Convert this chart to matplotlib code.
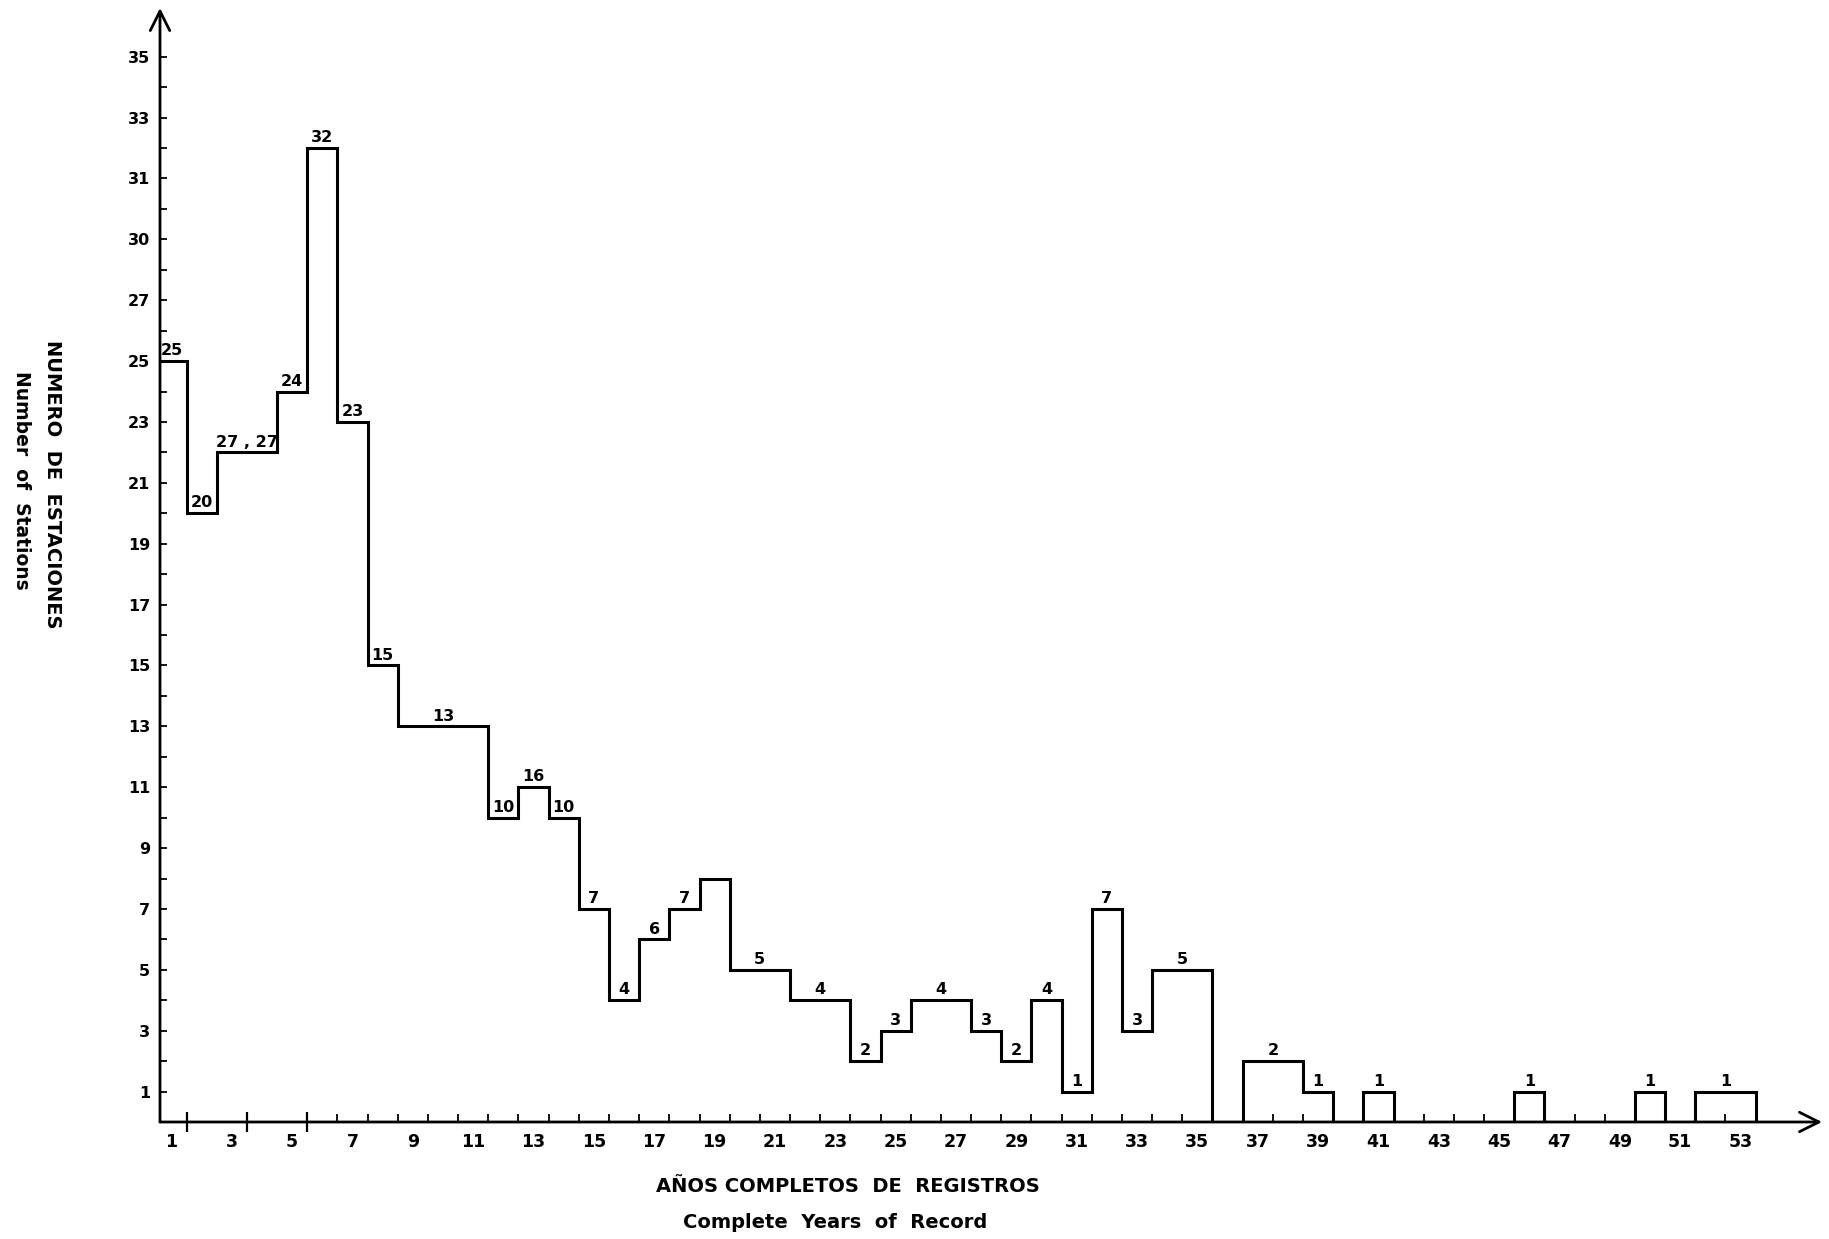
import matplotlib
matplotlib.use("Agg")
import matplotlib.pyplot as plt
from matplotlib.ticker import FixedLocator, NullFormatter
from matplotlib import font_manager

# ---------------- data ----------------
# runs of consecutive years with the same number of stations
run_start = [1, 2, 3, 5, 6, 7, 8, 9, 12, 13, 14, 15, 16, 17, 18, 19, 20, 22, 24, 25,
             26, 28, 29, 30, 31, 32, 33, 34, 36, 37, 39, 40, 41, 42, 46, 47, 50, 51, 52]
run_end = [1, 2, 4, 5, 6, 7, 8, 11, 12, 13, 14, 15, 16, 17, 18, 19, 21, 23, 24, 25,
           27, 28, 29, 30, 31, 32, 33, 35, 36, 38, 39, 40, 41, 45, 46, 49, 50, 51, 53]
run_count = [25, 20, 22, 24, 32, 23, 15, 13, 10, 11, 10, 7, 4, 6, 7, 8, 5, 4, 2, 3,
             4, 3, 2, 4, 1, 7, 3, 5, 0, 2, 1, 0, 1, 0, 1, 0, 1, 0, 1]
run_label = ['25', '20', '27 , 27', '24', '32', '23', '15', '13', '10', '16', '10', '7', '4',
             '6', '7', '', '5', '4', '2', '3', '4', '3', '2', '4', '1', '7', '3', '5', '',
             '2', '1', '', '1', '', '1', '', '1', '', '1']

x_tick_values = list(range(1, 54, 2))
x_tick_labels = [str(v) for v in x_tick_values]
y_tick_values = list(range(1, 36, 2))
y_tick_labels = ['1', '3', '5', '7', '9', '11', '13', '15', '17', '19', '21', '23',
                 '25', '27', '30', '31', '33', '35']

xlabel_es = "AÑOS COMPLETOS  DE  REGISTROS"
xlabel_en = "Complete  Years  of  Record"
ylabel_es = "NUMERO  DE  ESTACIONES"
ylabel_en = "Number  of  Stations"

# ---------------- fonts ----------------
avail = {f.name for f in font_manager.fontManager.ttflist}
narrow = 'Liberation Sans Narrow' if 'Liberation Sans Narrow' in avail else 'DejaVu Sans'
plt.rcParams['font.family'] = ['DejaVu Sans']

# ---------------- figure ----------------
W, H = 1829, 1239
fig = plt.figure(figsize=(W / 100, H / 100), dpi=100)
x0, x1 = 160, 1822
y0, y1 = 1122, 8
ax = fig.add_axes([x0 / W, 1 - y0 / H, (x1 - x0) / W, (y0 - y1) / H])

ax.set_xlim(0.62, 55.7)
ax.set_ylim(0, 36.6)

edges = [s - 0.5 for s in run_start] + [run_end[-1] + 0.5]
ax.stairs(run_count, edges, baseline=0, color='black', lw=2.2)

for s, e, c, t in zip(run_start, run_end, run_count, run_label):
    if t:
        ax.annotate(t, xy=((s + e) / 2, c), xytext=(0, 2), textcoords='offset points',
                    ha='center', va='bottom', fontsize=11.5, fontweight='bold',
                    family=narrow)

for sp in ax.spines.values():
    sp.set_visible(False)

# axes with arrows
ax.annotate('', xy=(0, 1), xytext=(0, 0), xycoords='axes fraction',
            arrowprops=dict(arrowstyle='->,head_length=0.7,head_width=0.35',
                            lw=2.0, color='black', shrinkA=0, shrinkB=0,
                            mutation_scale=20))
ax.annotate('', xy=(1, 0), xytext=(0, 0), xycoords='axes fraction',
            arrowprops=dict(arrowstyle='->,head_length=0.7,head_width=0.35',
                            lw=2.0, color='black', shrinkA=0, shrinkB=0,
                            mutation_scale=20))

# y ticks
ax.yaxis.set_major_locator(FixedLocator(y_tick_values))
ax.set_yticklabels(y_tick_labels)
ax.yaxis.set_minor_locator(FixedLocator(list(range(2, 36, 2))))
ax.tick_params(axis='y', which='both', direction='in', length=5, width=1.3, pad=7)
for lab in ax.get_yticklabels():
    lab.set_fontsize(11.5)
    lab.set_fontweight('bold')
    lab.set_family(narrow)

# x ticks: labels at year centres, small ticks at year boundaries
ax.xaxis.set_major_locator(FixedLocator(x_tick_values))
ax.set_xticklabels(x_tick_labels)
ax.xaxis.set_minor_locator(FixedLocator([v + 0.5 for v in range(6, 54)]))
ax.tick_params(axis='x', which='major', length=0, pad=8)
ax.tick_params(axis='x', which='minor', direction='in', length=6, width=1.3)
for lab in ax.get_xticklabels():
    lab.set_fontsize(12.5)
    lab.set_fontweight('bold')
    lab.set_family(narrow)

sec = ax.secondary_xaxis('bottom')
sec.set_xticks([1.5, 3.5, 5.5])
sec.xaxis.set_major_formatter(NullFormatter())
sec.tick_params(direction='inout', length=14, width=1.6)
for sp in sec.spines.values():
    sp.set_visible(False)

# axis titles
fig.text(848 / W, 1 - 1186 / H, xlabel_es, ha='center', va='center', fontsize=14,
         fontweight='bold')
fig.text(835 / W, 1 - 1222 / H, xlabel_en, ha='center', va='center', fontsize=14,
         fontweight='bold')
fig.text(52 / W, 1 - 484 / H, ylabel_es, ha='center', va='center', fontsize=14,
         fontweight='bold', rotation=270)
fig.text(21 / W, 1 - 480 / H, ylabel_en, ha='center', va='center', fontsize=13.5,
         fontweight='bold', rotation=270)

fig.savefig('out.png', dpi=100)
